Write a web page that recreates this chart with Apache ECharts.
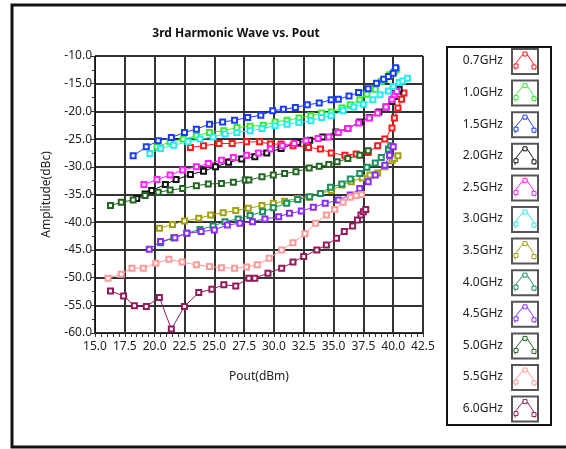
<!DOCTYPE html>
<html>
<head>
<meta charset="utf-8">
<script src="https://cdn.jsdelivr.net/npm/echarts@6/dist/echarts.min.js"></script>
<style>
  html, body { margin: 0; padding: 0; background: #fff; }
  #chart { width: 566px; height: 449px; }
</style>
</head>
<body>
<div id="chart"></div>
<script>
// series names and colours
const names = ['0.7GHz', '1.0GHz', '1.5GHz', '2.0GHz', '2.5GHz', '3.0GHz',
  '3.5GHz', '4.0GHz', '4.5GHz', '5.0GHz', '5.5GHz', '6.0GHz']
const colors = ['#ff1a1a', '#33ee33', '#1a3cff', '#111111', '#ff22ff', '#22eeee',
  '#a0a010', '#18915a', '#8a2bff', '#226622', '#ff9a9a', '#951a5a']

// Pout (dBm) and amplitude (dBc) per series
const x07 = [23.0, 24.1, 25.4, 26.5, 27.7, 28.8, 29.7, 30.6, 31.6, 32.9, 33.9, 34.8, 35.95, 36.9, 37.9, 38.7, 39.3, 39.9, 40.1, 40.4, 40.7, 40.9]
const y07 = [-26.5, -26.2, -25.8, -25.8, -25.5, -25.5, -25.9, -25.9, -26.2, -26.5, -26.8, -27.5, -27.9, -27.7, -27.4, -26.2, -25.0, -23.0, -21.2, -19.4, -17.8, -16.7]
const x10 = [20.2, 21.3, 22.4, 23.5, 24.6, 25.8, 26.9, 28.0, 29.1, 30.1, 31.1, 32.1, 33.1, 34.0, 34.8, 35.7, 36.4, 37.2, 37.8, 38.5, 39.0, 39.3, 39.7, 40.1, 40.3]
const y10 = [-26.4, -25.5, -25.0, -24.4, -23.8, -23.5, -22.9, -22.7, -22.5, -21.9, -21.6, -21.2, -20.8, -20.3, -20.1, -19.4, -18.8, -17.9, -16.9, -16.0, -14.6, -14.2, -13.4, -12.8, -12.4]
const x15 = [18.2, 19.3, 20.3, 21.4, 22.5, 23.5, 24.6, 25.7, 26.7, 27.8, 28.9, 29.9, 30.8, 31.8, 32.8, 33.8, 34.8, 35.4, 36.3, 37.1, 37.9, 38.6, 39.2, 39.6, 40.0, 40.2]
const y15 = [-28.0, -26.4, -25.3, -24.7, -23.8, -23.2, -22.3, -21.9, -21.6, -21.1, -20.7, -19.9, -19.6, -19.3, -18.8, -18.5, -17.9, -17.8, -17.2, -16.6, -15.9, -14.9, -14.2, -13.7, -13.1, -12.1]
const x20 = [18.5, 19.2, 19.75, 20.9, 21.8, 23.0, 24.1, 25.1, 26.2, 27.3, 28.4, 29.4, 30.6, 32.0, 33.0, 34.1, 35.2, 36.2, 37.2, 38.0, 38.8, 39.4, 39.9, 40.1, 40.4, 40.5]
const y20 = [-35.7, -34.9, -34.3, -33.2, -32.3, -31.4, -30.8, -30.0, -29.2, -28.6, -28.2, -27.5, -26.7, -25.6, -25.2, -24.6, -23.7, -23.1, -21.9, -21.1, -20.1, -19.2, -18.2, -17.3, -16.4, -16.0]
const x25 = [19.1, 20.2, 21.3, 22.35, 23.5, 24.5, 25.6, 26.6, 27.7, 28.7, 29.7, 30.7, 31.7, 32.7, 33.7, 34.6, 35.4, 36.2, 37.1, 38.0, 38.7, 39.4, 39.9, 40.1, 40.3]
const y25 = [-33.2, -32.3, -31.5, -30.6, -30.0, -29.4, -28.8, -28.3, -27.9, -27.5, -26.8, -26.2, -25.8, -25.3, -24.9, -24.6, -23.8, -23.1, -22.1, -21.2, -20.3, -19.2, -17.8, -17.0, -16.4]
const x30 = [19.6, 20.5, 21.6, 22.8, 23.8, 24.9, 25.9, 26.9, 28.0, 29.0, 30.1, 31.1, 32.1, 33.1, 34.0, 34.8, 35.8, 36.7, 37.5, 38.3, 38.9, 39.6, 40.0, 40.5, 40.8, 41.2]
const y30 = [-27.6, -26.7, -26.1, -25.5, -25.0, -24.6, -24.1, -23.8, -23.5, -23.1, -22.6, -22.3, -22.0, -21.7, -21.1, -20.8, -19.9, -19.2, -18.7, -17.9, -17.0, -16.3, -15.5, -14.8, -14.5, -14.0]
const x35 = [20.4, 21.5, 22.5, 23.7, 24.7, 25.75, 26.8, 27.85, 29.0, 29.95, 30.9, 32.0, 32.96, 33.9, 34.8, 35.7, 36.5, 37.4, 38.05, 38.7, 39.3, 39.9, 40.1, 40.4]
const y35 = [-41.1, -40.4, -39.8, -39.3, -38.7, -38.3, -37.9, -37.5, -37.0, -36.6, -36.2, -35.7, -35.5, -34.8, -34.3, -33.3, -32.7, -32.0, -31.5, -31.1, -30.0, -28.9, -28.5, -28.0]
const x40 = [20.5, 21.6, 22.7, 23.8, 24.9, 25.9, 27.0, 28.0, 29.05, 29.95, 31.07, 32.0, 33.0, 33.9, 34.75, 35.7, 36.4, 37.2, 37.8, 38.5, 39.0, 39.6, 39.8]
const y40 = [-43.7, -42.8, -42.0, -41.3, -40.7, -39.9, -39.4, -38.8, -38.1, -37.4, -36.6, -35.9, -35.4, -34.8, -33.7, -33.1, -32.2, -31.2, -30.1, -29.3, -28.3, -26.8, -26.2]
const x45 = [19.55, 20.5, 21.7, 22.7, 23.9, 25.0, 26.1, 27.15, 28.2, 29.25, 30.4, 31.3, 32.3, 33.3, 34.3, 35.4, 36.4, 37.2, 37.9, 38.5, 39.3, 39.7, 40.0]
const y45 = [-44.9, -43.5, -42.8, -42.0, -41.7, -41.4, -40.5, -40.2, -39.9, -39.4, -39.0, -38.4, -38.0, -37.3, -36.6, -36.0, -35.1, -33.9, -32.7, -31.5, -29.7, -27.9, -26.4]
const x50 = [16.3, 17.2, 18.2, 19.2, 20.3, 21.3, 22.35, 23.5, 24.5, 25.6, 26.6, 27.6, 27.9, 29.0, 29.95, 30.9, 31.85, 32.96, 33.8, 34.6, 35.3, 36.2, 37.2, 37.9]
const y50 = [-37.0, -36.4, -36.0, -35.2, -34.6, -34.2, -33.9, -33.4, -33.1, -33.0, -32.8, -32.4, -32.4, -31.8, -31.5, -31.2, -30.9, -30.2, -29.9, -29.6, -29.1, -28.5, -27.9, -27.1]
const x55 = [16.1, 17.2, 18.1, 19.05, 20.1, 21.2, 22.3, 23.5, 24.6, 25.6, 26.7, 27.7, 28.6, 29.6, 30.65, 31.6, 32.6, 33.5, 34.4, 35.1, 35.8, 36.4, 36.9, 37.35]
const y55 = [-50.1, -49.4, -48.3, -48.3, -47.4, -46.7, -47.2, -47.7, -48.0, -48.2, -48.3, -48.1, -47.7, -46.5, -45.0, -43.7, -42.1, -40.2, -38.7, -37.7, -36.4, -35.5, -35.2, -35.0]
const x60 = [16.3, 17.4, 18.3, 19.3, 20.4, 21.4, 22.5, 23.7, 24.8, 25.8, 26.8, 27.9, 28.4, 29.5, 30.65, 31.6, 32.5, 33.6, 34.4, 35.25, 35.9, 36.6, 37.0, 37.3, 37.5, 37.7]
const y60 = [-52.4, -53.3, -55.1, -55.2, -53.6, -59.3, -55.2, -52.7, -52.1, -51.3, -51.5, -50.1, -50.1, -49.2, -48.3, -47.2, -46.2, -45.0, -44.1, -42.9, -41.7, -40.7, -39.6, -38.7, -38.1, -37.7]

const xs = [x07, x10, x15, x20, x25, x30, x35, x40, x45, x50, x55, x60]
const ys = [y07, y10, y15, y20, y25, y30, y35, y40, y45, y50, y55, y60]

const FONT = 'Noto Sans'

const series = names.map((n, i) => ({
  name: n,
  type: 'line',
  data: xs[i].map((x, k) => [x, ys[i][k]]),
  symbol: 'emptyRect',
  symbolSize: 5,
  showAllSymbol: true,
  color: colors[i],
  lineStyle: { width: 1, color: colors[i] },
  itemStyle: { color: colors[i], borderWidth: 1 },
  animation: false,
  z: 3
}))

// legend box drawn as graphics
const graphic = [
  { type: 'rect', shape: { x: 12, y: 5, width: 600, height: 442 }, style: { fill: 'none', stroke: '#111', lineWidth: 3 }, silent: true },
  { type: 'rect', shape: { x: 447, y: 47, width: 104, height: 378 }, style: { fill: '#fff', stroke: '#111', lineWidth: 2 }, silent: true }
]
names.forEach((n, i) => {
  const cy = 61 + i * 31.6
  graphic.push({ type: 'text', x: 503, y: cy, style: { text: n, font: '12px "' + FONT + '"', fill: '#222', align: 'right', verticalAlign: 'middle' } })
  graphic.push({ type: 'rect', shape: { x: 512, y: cy - 12, width: 26, height: 25 }, style: { fill: '#fff', stroke: '#555', lineWidth: 2 } })
  graphic.push({ type: 'polyline', shape: { points: [[515, cy + 9], [516, cy + 2], [524, cy - 8], [527, cy - 7], [533, cy + 2], [535, cy + 9]] }, style: { stroke: colors[i], lineWidth: 1, fill: 'none' } })
  ;[[516, cy + 5], [525, cy - 7], [534, cy + 6]].forEach(p => {
    graphic.push({ type: 'rect', shape: { x: p[0] - 2, y: p[1] - 2, width: 4, height: 4 }, style: { fill: '#fff', stroke: colors[i], lineWidth: 1 } })
  })
})

const chart = echarts.init(document.getElementById('chart'), null, { renderer: 'canvas' })
chart.setOption({
  backgroundColor: '#fff',
  animation: false,
  title: {
    text: '3rd Harmonic Wave vs. Pout',
    left: 231,
    top: 23,
    textAlign: 'center',
    textStyle: { fontFamily: FONT, fontSize: 12, fontWeight: 'bold', color: '#111' }
  },
  grid: { left: 95, top: 56, right: 143, bottom: 116, containLabel: false },
  xAxis: {
    type: 'value',
    min: 15, max: 42.5, interval: 2.5,
    name: 'Pout(dBm)',
    nameLocation: 'middle',
    nameGap: 38,
    nameTextStyle: { fontFamily: FONT, fontSize: 12, color: '#222' },
    axisLine: { show: true, lineStyle: { color: '#111', width: 1 } },
    axisTick: { show: true, length: 4, lineStyle: { color: '#333' } },
    minorTick: { show: true, splitNumber: 5, length: 4, lineStyle: { color: '#333' } },
    axisLabel: { fontFamily: FONT, fontSize: 12, color: '#222', margin: 8, formatter: v => v.toFixed(1) },
    splitLine: { show: true, lineStyle: { color: '#333', width: 2 } }
  },
  yAxis: {
    type: 'value',
    min: -60, max: -10, interval: 5,
    name: 'Amplitude(dBc)',
    nameLocation: 'middle',
    nameRotate: 90,
    nameGap: 42,
    nameTextStyle: { fontFamily: FONT, fontSize: 12, color: '#222' },
    axisLine: { show: true, lineStyle: { color: '#111', width: 1 } },
    axisTick: { show: true, length: 4, lineStyle: { color: '#333' } },
    minorTick: { show: true, splitNumber: 2, length: 3, lineStyle: { color: '#333' } },
    axisLabel: { fontFamily: FONT, fontSize: 12, color: '#222', margin: 3, formatter: v => v.toFixed(1) },
    splitLine: { show: true, lineStyle: { color: '#333', width: 2 } }
  },
  series: series,
  graphic: graphic
})
</script>
</body>
</html>
